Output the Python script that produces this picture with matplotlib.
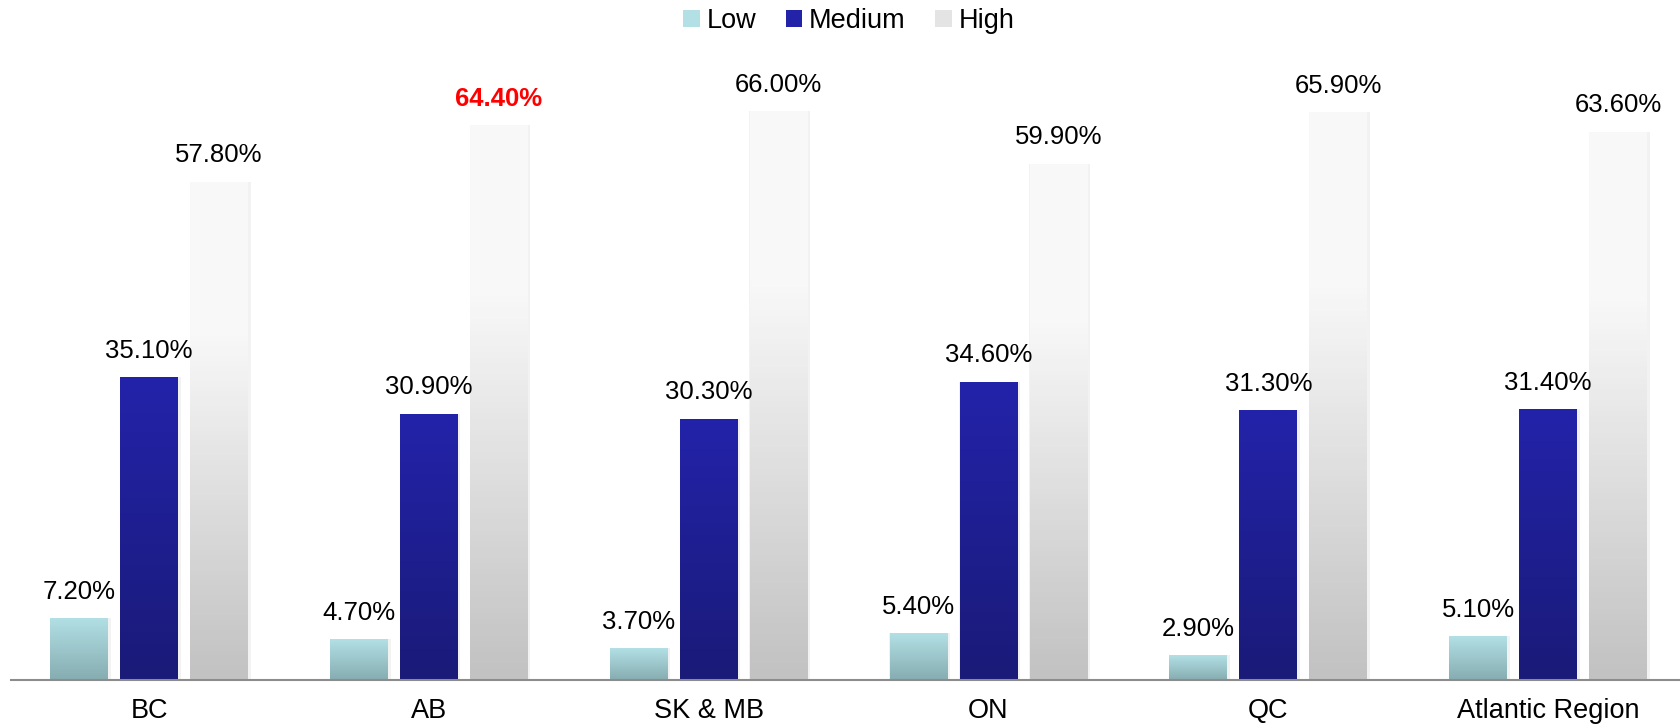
import matplotlib.pyplot as plt
import numpy as np
from matplotlib.colors import LinearSegmentedColormap
from matplotlib.patches import Patch

plt.rcParams['font.family'] = ['Liberation Sans', 'DejaVu Sans']

regions = ['BC', 'AB', 'SK & MB', 'ON', 'QC', 'Atlantic Region']
low = [7.2, 4.7, 3.7, 5.4, 2.9, 5.1]
medium = [35.1, 30.9, 30.3, 34.6, 31.3, 31.4]
high = [57.8, 64.4, 66.0, 59.9, 65.9, 63.6]
series_names = ['Low', 'Medium', 'High']
highlight = ('AB', 'High')

# top colour, bottom colour
grads = {
    'Low': ('#b2e0e5', '#86adb1'),
    'Medium': ('#2323aa', '#1a1a78'),
    'High': ('#f8f8f8', '#c2c2c2'),
}

fig = plt.figure(figsize=(16.81, 7.26), dpi=100)
ax = fig.add_axes([11 / 1681, 46 / 726, 1 - 11 / 1681, 680 / 726])

x = np.arange(len(regions))
width = 0.207
step = 0.25
ymax = 78.9

for i, (name, vals) in enumerate(zip(series_names, [low, medium, high])):
    top, bot = grads[name]
    cmap = LinearSegmentedColormap.from_list(name, [bot, top])
    pos = x + (i - 1) * step
    bars = ax.bar(pos, vals, width, color='none', edgecolor='none', zorder=2)
    for rect, v, r in zip(bars, vals, regions):
        x0 = rect.get_x()
        # soft shadow
        ax.bar(x0 + width / 2 + 0.004, v, width + 0.01, color='#000000', alpha=0.05,
               zorder=1, edgecolor='none')
        if name == 'High':
            g = np.concatenate([np.linspace(0, 1, 70), np.ones(30)])[:, None]
        else:
            g = np.linspace(0, 1, 100)[:, None]
        im = ax.imshow(g, extent=[x0, x0 + width, 0, v], origin='lower',
                       aspect='auto', cmap=cmap, vmin=0, vmax=1, zorder=2)
        im.set_clip_path(rect)
        hl = (r, name) == highlight
        ax.annotate(f'{v:.2f}%', (x0 + width / 2, v), xytext=(0, 19),
                    textcoords='offset points', ha='center', va='center',
                    fontsize=18.5, color='red' if hl else 'black',
                    fontweight='bold' if hl else 'normal')

ax.set_xlim(-0.494, 5.475)
ax.set_ylim(0, ymax)
ax.set_xticks(x)
ax.set_xticklabels(regions, fontsize=19.5)
ax.tick_params(axis='x', length=0, pad=13)
ax.set_yticks([])
for s in ['top', 'right', 'left']:
    ax.spines[s].set_visible(False)
ax.spines['bottom'].set_color('#8c8c8c')
ax.spines['bottom'].set_linewidth(1.5)

handles = [Patch(facecolor=grads[n][0], edgecolor='none') for n in series_names]
handles[2] = Patch(facecolor='#e4e4e4', edgecolor='none')
fig.legend(handles, series_names, loc='upper center', bbox_to_anchor=(0.505, 1.022),
           ncol=3, frameon=False, fontsize=19.5, handlelength=0.6, handleheight=0.6,
           handletextpad=0.25, columnspacing=1.1)

fig.savefig('out.png', dpi=100)
